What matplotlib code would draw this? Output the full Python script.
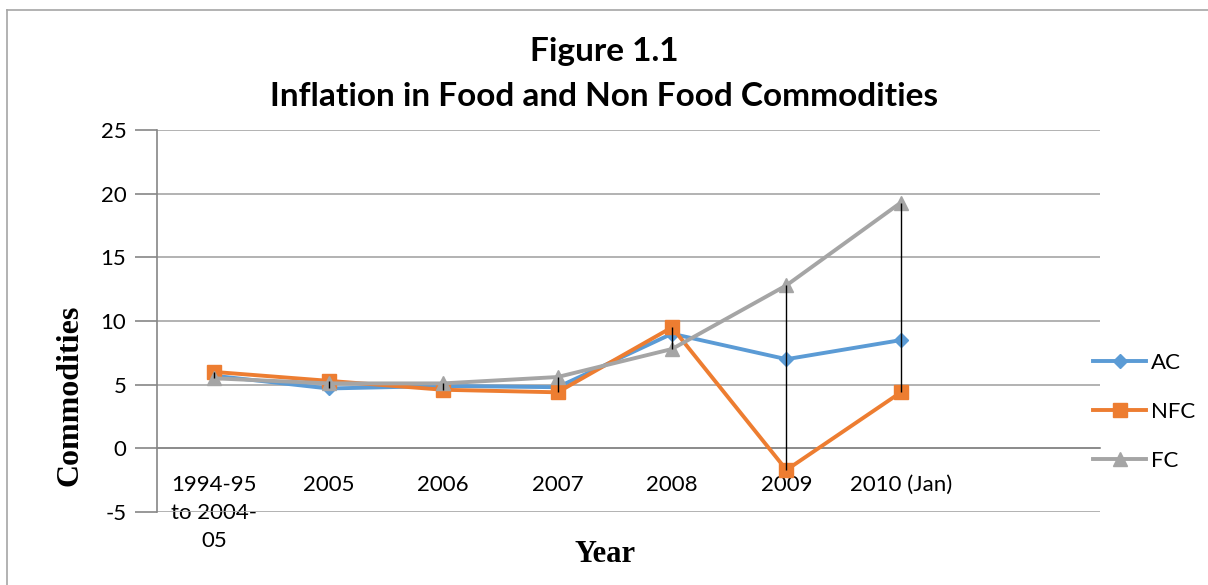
import matplotlib
matplotlib.use("Agg")
import matplotlib.pyplot as plt
from matplotlib import font_manager

# Data
categories = ["1994-95\nto 2004-\n05", "2005", "2006", "2007", "2008", "2009", "2010 (Jan)"]
ac = [5.7, 4.7, 4.9, 4.8, 9.0, 7.0, 8.5]
nfc = [6.0, 5.3, 4.6, 4.4, 9.5, -1.7, 4.4]
fc = [5.5, 5.1, 5.1, 5.6, 7.8, 12.8, 19.3]

names = {f.name for f in font_manager.fontManager.ttflist}
sans = "Lato" if "Lato" in names else "DejaVu Sans"
serif = "Liberation Serif"
plt.rcParams["axes.unicode_minus"] = False

fig = plt.figure(figsize=(12.08, 5.85), dpi=100)
# outer chart border (top and left visible)
fig.add_artist(plt.Line2D([0.006, 1.0], [0.983, 0.983], color="#a6a6a6", lw=1.2))
fig.add_artist(plt.Line2D([0.006, 0.006], [0.0, 0.983], color="#a6a6a6", lw=1.2))

ax = fig.add_axes([157 / 1208, 1 - 512 / 585, (1100 - 157) / 1208, (512 - 130) / 585])
x = list(range(len(categories)))

# high-low lines
lows = [min(a, b, c) for a, b, c in zip(ac, nfc, fc)]
highs = [max(a, b, c) for a, b, c in zip(ac, nfc, fc)]
ax.vlines(x, lows, highs, color="black", lw=1, zorder=4)

ax.plot(x, ac, color="#5B9BD5", lw=2.8, marker="D", ms=7, label="AC", zorder=3)
ax.plot(x, nfc, color="#ED7D31", lw=2.8, marker="s", ms=10, label="NFC", zorder=3)
ax.plot(x, fc, color="#A5A5A5", lw=2.8, marker="^", ms=10, label="FC", zorder=3)

ax.set_ylim(-5, 25)
ax.set_xlim(-0.5, 7.74)
ax.set_yticks(range(-5, 26, 5))
ax.grid(axis="y", color="#a6a6a6", lw=1.2)
ax.set_axisbelow(True)

for s in ["top", "right"]:
    ax.spines[s].set_visible(False)
ax.spines["left"].set_color("#868686")
ax.spines["left"].set_linewidth(1.2)
ax.spines["bottom"].set_position(("data", 0))
ax.spines["bottom"].set_color("#868686")
ax.spines["bottom"].set_linewidth(1.2)

ax.set_xticks(x)
ax.set_xticklabels(categories, fontsize=16, family=sans, linespacing=1.5)
ax.tick_params(axis="x", length=0, pad=19)
ax.tick_params(axis="y", length=16, color="#868686", width=1.2, labelsize=16, pad=6)
for t in ax.get_yticklabels():
    t.set_family(sans)

fig.text(0.5, 0.912, "Figure 1.1", ha="center", va="center", fontsize=24,
         fontweight="bold", family=sans)
fig.text(0.5, 0.835, "Inflation in Food and Non Food Commodities", ha="center",
         va="center", fontsize=24, fontweight="bold", family=sans)

fig.text(70 / 1208, 1 - 395 / 585, "Commodities", rotation=90, ha="center", va="center",
         fontsize=23, fontweight="bold", family=serif)
fig.text(605 / 1208, 1 - 555 / 585, "Year", ha="center", va="center",
         fontsize=22, fontweight="bold", family=serif)

leg = fig.legend(loc="center left", bbox_to_anchor=(1093 / 1208, 1 - 412 / 585),
                 frameon=False, prop={"family": sans, "size": 16}, handlelength=2.4,
                 labelspacing=1.3, handletextpad=0.2, borderaxespad=0, borderpad=0)

fig.savefig("out.png", dpi=100)
